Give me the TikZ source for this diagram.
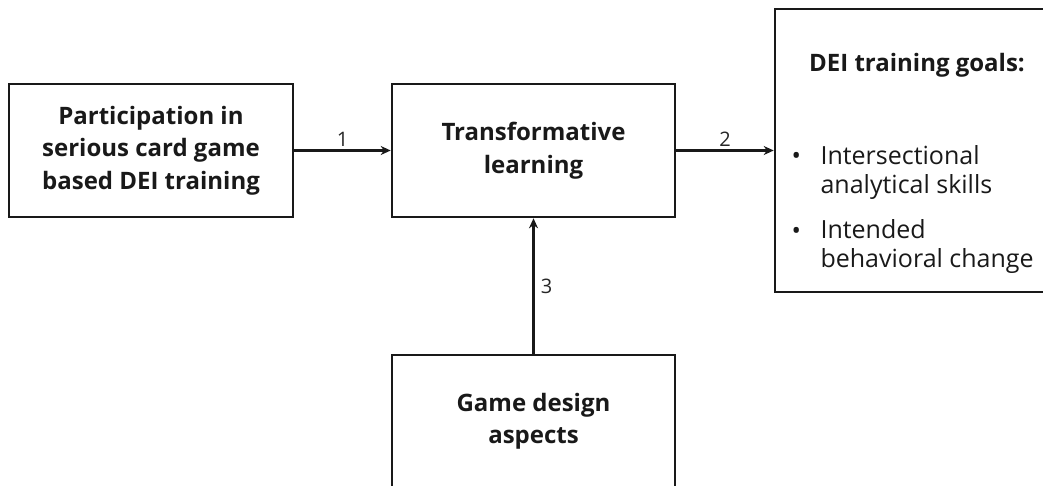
\documentclass[tikz,border=0pt]{standalone}
\usepackage{fontspec}
\setmainfont{Open Sans}
\usetikzlibrary{arrows.meta}
\begin{document}
\begin{tikzpicture}[x=1pt,y=-1pt,
  box/.style={draw=black!90, line width=2.6pt, rectangle, inner sep=0pt},
  boxtext/.style={font=\bfseries\fontsize{24}{32.5}\selectfont, align=center, text=black!90},
  conn/.style={line width=2.3pt, draw=black!90, -{Stealth[length=10pt,width=9pt]}},
  num/.style={font=\fontsize{20}{22}\selectfont, text=black!85},
  item/.style={font=\fontsize{25}{29}\selectfont, align=left, anchor=west, text=black!90}]
\useasboundingbox (0,0) rectangle (1043,486);
\node[box, minimum width=284pt, minimum height=133pt] (part) at (151,150.5) {};
\node[boxtext] (partt) at (part.center) {Participation in\\serious card game\\based DEI training};
\node[box, minimum width=283pt, minimum height=133pt] (trans) at (533.5,150.5) {};
\node[boxtext] (transt) at (trans.center) {Transformative\\learning};
\node[box, minimum width=284pt, minimum height=283pt] (goals) at (917,150.5) {};
\node[boxtext] (goalst) at (917,65) {DEI training goals:};
\node[item] (b1) at (788,158) {•};
\node[item] (i1) at (817,172.5) {Intersectional\\analytical skills};
\node[item] (b2) at (788,233) {•};
\node[item] (i2) at (817,247) {Intended\\behavioral change};
\node[box, minimum width=283pt, minimum height=133pt] (game) at (533.5,421.5) {};
\node[boxtext] (gamet) at (game.center) {Game design\\aspects};
\draw[conn] (part.east) -- node[num, above=0pt] (n1) {1} (trans.west);
\draw[conn] (trans.east) -- node[num, above=0pt] (n2) {2} (goals.west);
\draw[conn] (game.north) -- node[num, right=3pt] (n3) {3} (trans.south);
\end{tikzpicture}
\end{document}
